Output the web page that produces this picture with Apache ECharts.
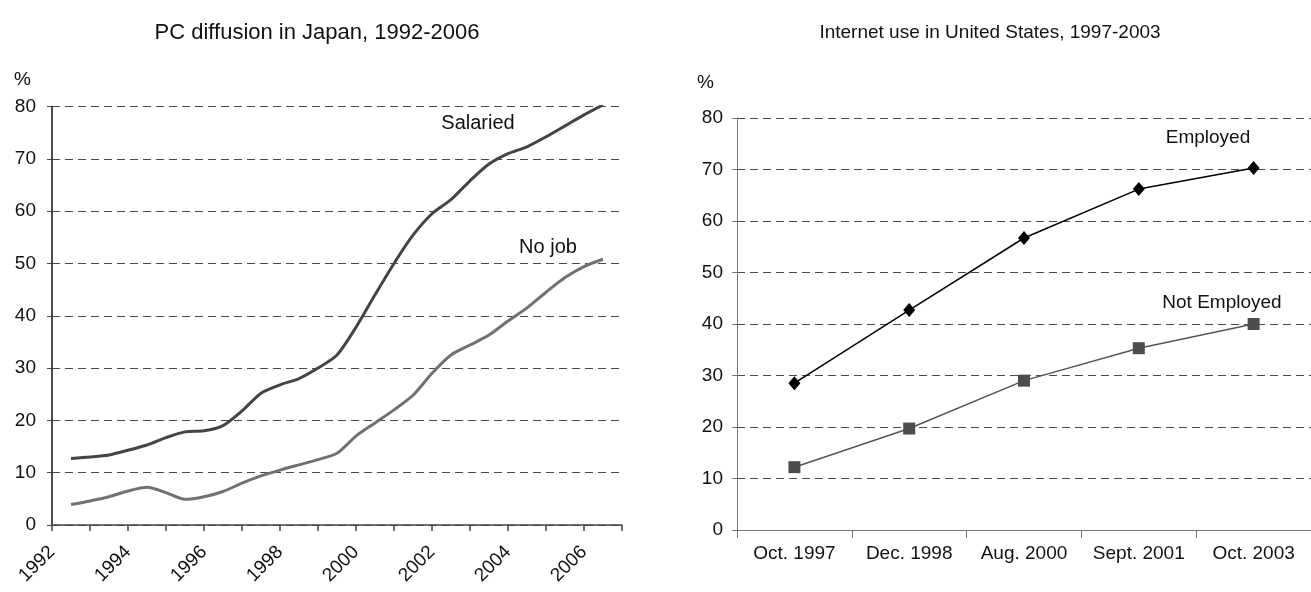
<!DOCTYPE html>
<html>
<head>
<meta charset="utf-8">
<script src="https://cdn.jsdelivr.net/npm/echarts@6/dist/echarts.min.js"></script>
<style>
html,body{margin:0;padding:0;background:#fff;}
#chart{width:1311px;height:592px;}
</style>
</head>
<body>
<div id="chart"></div>
<script>
// ---- Left chart: PC diffusion in Japan (half-yearly readings) ----
var jpYears = [1992.5,1993,1993.5,1994,1994.5,1995,1995.5,1996,1996.5,1997,1997.5,1998,1998.5,1999,1999.5,2000,2000.5,2001,2001.5,2002,2002.5,2003,2003.5,2004,2004.5,2005,2005.5,2006,2006.5];
var salaried = [12.7,13.0,13.4,14.3,15.3,16.7,17.8,18.0,19.0,21.8,25.2,26.8,28.0,30.0,32.5,37.8,44.0,50.0,55.4,59.5,62.2,65.8,69.0,71.0,72.3,74.2,76.3,78.4,80.3];
var noJob = [3.9,4.6,5.4,6.5,7.2,6.2,4.9,5.4,6.4,8.0,9.4,10.5,11.5,12.5,13.7,17.0,19.5,22.0,24.8,29.0,32.5,34.4,36.3,39.0,41.5,44.5,47.3,49.4,50.8];

// ---- Right chart: Internet use in United States ----
var usCategories = ['Oct. 1997','Dec. 1998','Aug. 2000','Sept. 2001','Oct. 2003'];
var employed = [28.5,42.7,56.7,66.2,70.3];
var notEmployed = [12.2,19.7,29.0,35.3,40.0];

function pairs(xs, ys){ return xs.map(function(x,i){ return [x, ys[i]]; }); }

var FONT = 'Liberation Sans, Arial, sans-serif';
var gridDash = {type:[8,5], color:'#4a4a4a', width:1};

var chart = echarts.init(document.getElementById('chart'));
chart.setOption({
  animation:false,
  backgroundColor:'#fff',
  textStyle:{fontFamily:FONT},
  title:[
    {text:'PC diffusion in Japan, 1992-2006', left:312, top:17, textAlign:'center',
     textStyle:{fontSize:22, fontWeight:'normal', color:'#111', fontFamily:FONT}},
    {text:'Internet use in United States, 1997-2003', left:985, top:18, textAlign:'center',
     textStyle:{fontSize:19, fontWeight:'normal', color:'#111', fontFamily:FONT}}
  ],
  grid:[
    {left:52, right:689, top:106.5, bottom:67},
    {left:737, right:-11, top:118, bottom:62}
  ],
  xAxis:[
    {type:'value', gridIndex:0, min:1992, max:2007, interval:1,
     axisLine:{show:true, lineStyle:{color:'#444', width:1.5}},
     axisTick:{show:true, length:6, lineStyle:{color:'#444', width:1.5}},
     splitLine:{show:false},
     axisLabel:{rotate:45, margin:24, fontSize:19, color:'#111', fontFamily:FONT,
       formatter:function(v){ return (v%2===0 && v<=2006) ? String(v) : ''; }}},
    {type:'category', gridIndex:1, data:usCategories, boundaryGap:true,
     axisLine:{show:true, lineStyle:{color:'#777', width:1}},
     axisTick:{show:true, length:8, interval:0, lineStyle:{color:'#777'}},
     axisLabel:{margin:14, interval:0, fontSize:19, color:'#111', fontFamily:FONT}}
  ],
  yAxis:[
    {type:'value', gridIndex:0, min:0, max:80, interval:10,
     axisLine:{show:true, lineStyle:{color:'#111', width:1.5}},
     axisTick:{show:true, length:5, lineStyle:{color:'#444'}},
     axisLabel:{margin:16, fontSize:19, color:'#111', fontFamily:FONT},
     splitLine:{show:true, lineStyle:gridDash}},
    {type:'value', gridIndex:1, min:0, max:80, interval:10,
     axisLine:{show:true, lineStyle:{color:'#777', width:1}},
     axisTick:{show:true, length:5, lineStyle:{color:'#777'}},
     axisLabel:{margin:14, fontSize:19, color:'#111', fontFamily:FONT},
     splitLine:{show:true, lineStyle:gridDash}}
  ],
  series:[
    {name:'Salaried', type:'line', xAxisIndex:0, yAxisIndex:0, data:pairs(jpYears, salaried),
     smooth:0.25, showSymbol:false, lineStyle:{color:'#444', width:3}},
    {name:'No job', type:'line', xAxisIndex:0, yAxisIndex:0, data:pairs(jpYears, noJob),
     smooth:0.25, showSymbol:false, lineStyle:{color:'#717171', width:3}},
    {name:'Employed', type:'line', xAxisIndex:1, yAxisIndex:1, data:employed,
     symbol:'diamond', symbolSize:[12,14], itemStyle:{color:'#000'},
     lineStyle:{color:'#000', width:1.5}},
    {name:'Not Employed', type:'line', xAxisIndex:1, yAxisIndex:1, data:notEmployed,
     symbol:'rect', symbolSize:12, itemStyle:{color:'#4d4d4d'},
     lineStyle:{color:'#555', width:1.5}}
  ],
  graphic:[
    {type:'text', left:14, top:70, style:{text:'%', fontSize:19, fill:'#111', fontFamily:FONT}},
    {type:'text', left:697, top:73, style:{text:'%', fontSize:19, fill:'#111', fontFamily:FONT}},
    {type:'text', x:478, y:123, style:{text:'Salaried', fontSize:20, fill:'#111', fontFamily:FONT, align:'center', verticalAlign:'middle'}},
    {type:'text', x:548, y:247, style:{text:'No job', fontSize:20, fill:'#111', fontFamily:FONT, align:'center', verticalAlign:'middle'}},
    {type:'text', x:1208, y:138, style:{text:'Employed', fontSize:19, fill:'#111', fontFamily:FONT, align:'center', verticalAlign:'middle'}},
    {type:'text', x:1222, y:303, style:{text:'Not Employed', fontSize:19, fill:'#111', fontFamily:FONT, align:'center', verticalAlign:'middle'}}
  ]
});
</script>
</body>
</html>
